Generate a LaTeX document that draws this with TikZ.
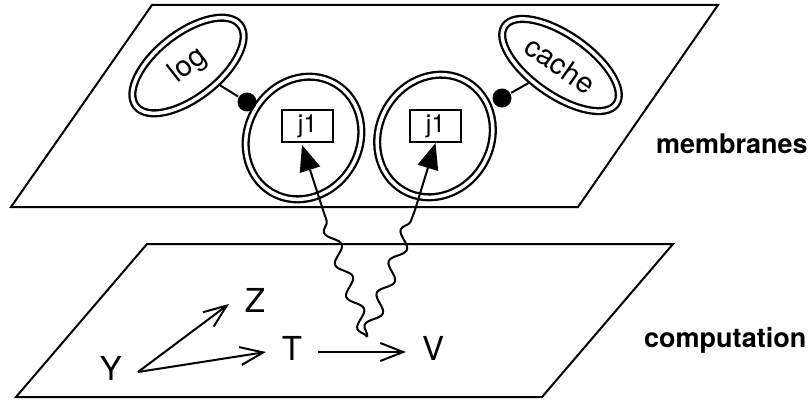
\documentclass[tikz,border=0pt]{standalone}
\usepackage{fontspec}
\setmainfont{TeX Gyre Heros}
\usetikzlibrary{shapes.geometric,arrows.meta,decorations.pathmorphing,calc}
\begin{document}
\begin{tikzpicture}[x=1pt,y=-1pt,line width=2pt,
  plane/.style={line width=2pt, line join=miter},
  memb/.style={ellipse, draw, double, double distance=3.5pt, line width=2.3pt, inner sep=0pt, outer sep=4pt},
  jbox/.style={rectangle, draw, line width=2pt, minimum width=51pt, minimum height=32pt, inner sep=0pt, font=\fontsize{25}{25}\selectfont},
  dotn/.style={circle, fill, minimum size=19pt, inner sep=0pt},
  letter/.style={font=\fontsize{33}{33}\selectfont, inner xsep=15pt, inner ysep=0pt, text height=23.5pt, text depth=7pt},
  lab/.style={font=\fontsize{27}{30}\selectfont\bfseries, anchor=base west, inner sep=0pt},
  memfont/.style={font=\fontsize{29}{29}\selectfont},
  wavy/.style={decorate, decoration={snake, segment length=34pt, amplitude=6.5pt}, line width=2pt},
  jarrow/.style={-{Triangle[length=26pt,width=21pt]}, line width=2pt},
  darrow/.style={-{Straight Barb[length=23pt,width=18pt]}, line width=2pt}
]
\useasboundingbox (0,0) rectangle (810,401);
% planes
\draw[plane] (152,5) -- (718,5) -- (578,207) -- (11,207) -- cycle;
\draw[plane] (147,244) -- (673,244) -- (542,397) -- (16,397) -- cycle;
% membranes
\node[memb, memfont, rotate=38, minimum width=132pt, minimum height=64pt] (log) at (188,65.5) {log};
\node[memb, memfont, rotate=-35, minimum width=136pt, minimum height=60pt] (cache) at (560.5,65) {cache};
\node[memb, rotate=60, minimum width=126pt, minimum height=112pt] (m1) at (303.5,138) {};
\node[memb, rotate=60, minimum width=126pt, minimum height=112pt] (m2) at (435,136) {};
\node[jbox] (j1a) at (307.5,126) {j1};
\node[jbox] (j1b) at (435.5,126) {j1};
\node[dotn] (d1) at (247,102) {};
\node[dotn] (d2) at (502,98) {};
\draw (log) -- (d1);
\draw (cache) -- (d2);
% wavy connections
\coordinate (w) at (367,337);
\coordinate (s1) at (324,213);
\coordinate (s2) at (415,210);
\draw[wavy] (w) -- (s1);
\draw[wavy] (w) -- (s2);
\draw[jarrow] (s1) -- ([xshift=-5.5pt,yshift=-2pt]j1a.south);
\draw[jarrow] (s2) -- (j1b.south);
% computation
\node[letter] (Y) at (111,372) {Y};
\node[letter] (Z) at (255,304) {Z};
\node[letter] (T) at (292,352) {T};
\node[letter] (V) at (433,352) {V};
\draw[darrow] (Y.east) -- (Z.west);
\draw[darrow] (Y.east) -- (T.west);
\draw[darrow] (T.east) -- (V.west);
% labels
\node[lab] (mem) at (655,153) {membranes};
\node[lab] (comp) at (643,347) {computation};
\end{tikzpicture}
\end{document}
